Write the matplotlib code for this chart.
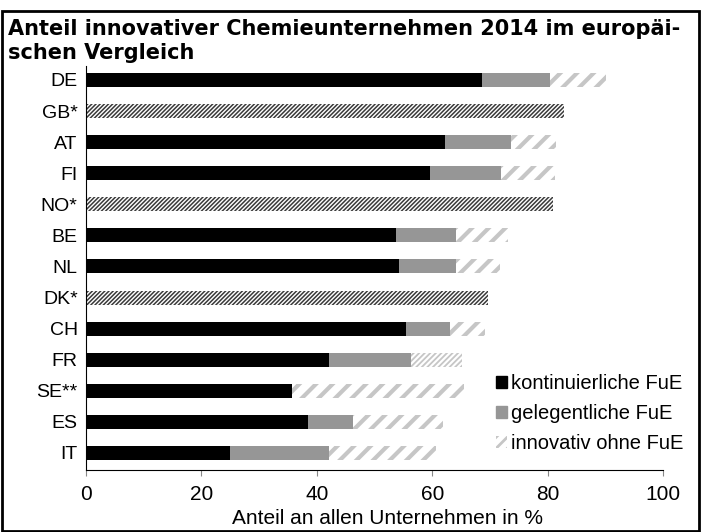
import matplotlib.pyplot as plt
from matplotlib.patches import Patch, Rectangle

# Werte (Anteil in %)
laender = ['DE', 'GB*', 'AT', 'FI', 'NO*', 'BE', 'NL', 'DK*', 'CH', 'FR', 'SE**', 'ES', 'IT']
kontinuierlich = [68.6, 0, 62.2, 59.7, 0, 53.7, 54.2, 0, 55.4, 42.1, 35.7, 38.4, 24.9]
gelegentlich = [11.9, 0, 11.5, 12.2, 0, 10.4, 9.9, 0, 7.6, 14.2, 0, 7.8, 17.2]
ohne_fue = [9.7, 0, 7.8, 9.4, 0, 9.0, 7.7, 0, 6.1, 8.9, 29.8, 15.7, 18.6]
nur_gesamt = [0, 82.9, 0, 0, 80.9, 0, 0, 69.6, 0, 0, 0, 0, 0]

schwarz = '#000000'
grau = '#969696'
hellgrau = '#c6c6c6'
dunkel = '#3a3a3a'

plt.rcParams['font.family'] = ['Liberation Sans', 'DejaVu Sans']

fig = plt.figure(figsize=(7.01, 5.32), dpi=100)
ax = fig.add_axes([86 / 701, 1 - 470 / 532, (663 - 86) / 701, (470 - 66) / 532])

pos = list(range(len(laender)))
h = 0.45


def set_hlw(patches, lw):
    for p in patches:
        if hasattr(p, 'set_hatch_linewidth'):
            p.set_hatch_linewidth(lw)


def hatch_bar(y, w, left, color, hatch, lw):
    with plt.rc_context({'hatch.linewidth': lw, 'hatch.color': color}):
        bars = ax.barh(y, w, left=left, height=h, color='white',
                       edgecolor=color, linewidth=0, hatch=hatch)
    set_hlw(bars, lw)
    return bars


ax.barh(pos, kontinuierlich, height=h, color=schwarz, linewidth=0)
links = kontinuierlich
ax.barh(pos, gelegentlich, left=links, height=h, color=grau, linewidth=0)
links2 = [a + b for a, b in zip(kontinuierlich, gelegentlich)]

# FR hat eine feinere Schraffur
for i in pos:
    if ohne_fue[i] == 0:
        continue
    if laender[i] == 'FR':
        hatch_bar(i, ohne_fue[i], links2[i], hellgrau, '//////', 1.3)
    else:
        hatch_bar(i, ohne_fue[i], links2[i], hellgrau, '//', 3.0)

for i in pos:
    if nur_gesamt[i] > 0:
        hatch_bar(i, nur_gesamt[i], 0, dunkel, '////////', 1.1)

ax.set_xlim(0, 100)
ax.set_ylim(12.55, -0.45)
ax.set_yticks(pos)
ax.set_yticklabels(laender, fontsize=14)
ax.set_xticks([0, 20, 40, 60, 80, 100])
ax.tick_params(axis='y', length=0, pad=6)
ax.tick_params(axis='x', length=4, width=0.8, color='#888888', pad=7, labelsize=15)
ax.spines['top'].set_visible(False)
ax.spines['right'].set_visible(False)
ax.set_xlabel('Anteil an allen Unternehmen in %', fontsize=15, va='center')
ax.xaxis.set_label_coords((387.5 - 86) / 577, -(519 - 470) / 404)

handles = [Patch(facecolor=schwarz, edgecolor=schwarz),
           Patch(facecolor=grau, edgecolor=grau),
           Patch(facecolor='white', edgecolor=hellgrau, hatch='///', linewidth=0)]
with plt.rc_context({'hatch.linewidth': 2.0}):
    leg = ax.legend(handles, ['kontinuierliche FuE', 'gelegentliche FuE', 'innovativ ohne FuE'],
                    loc='upper left', bbox_to_anchor=(496 / 701, 1 - 374 / 532),
                    bbox_transform=fig.transFigure, frameon=False, fontsize=14.5,
                    handlelength=0.55, handleheight=0.55, handletextpad=0.2,
                    labelspacing=0.55, borderpad=0, borderaxespad=0)
set_hlw(leg.get_patches()[2:], 2.0)

fig.text(8 / 701, 1 - 19 / 532,
         'Anteil innovativer Chemieunternehmen 2014 im europäi-\nschen Vergleich',
         fontsize=15, fontweight='bold', family='DejaVu Sans', va='top', ha='left',
         linespacing=1.25)

# Rahmen um die Grafik
fig.add_artist(Rectangle((2 / 701, 1 / 532), 697 / 701, 520 / 532,
                         transform=fig.transFigure, fill=False,
                         edgecolor='black', linewidth=2))

fig.savefig('out.png', dpi=100)
